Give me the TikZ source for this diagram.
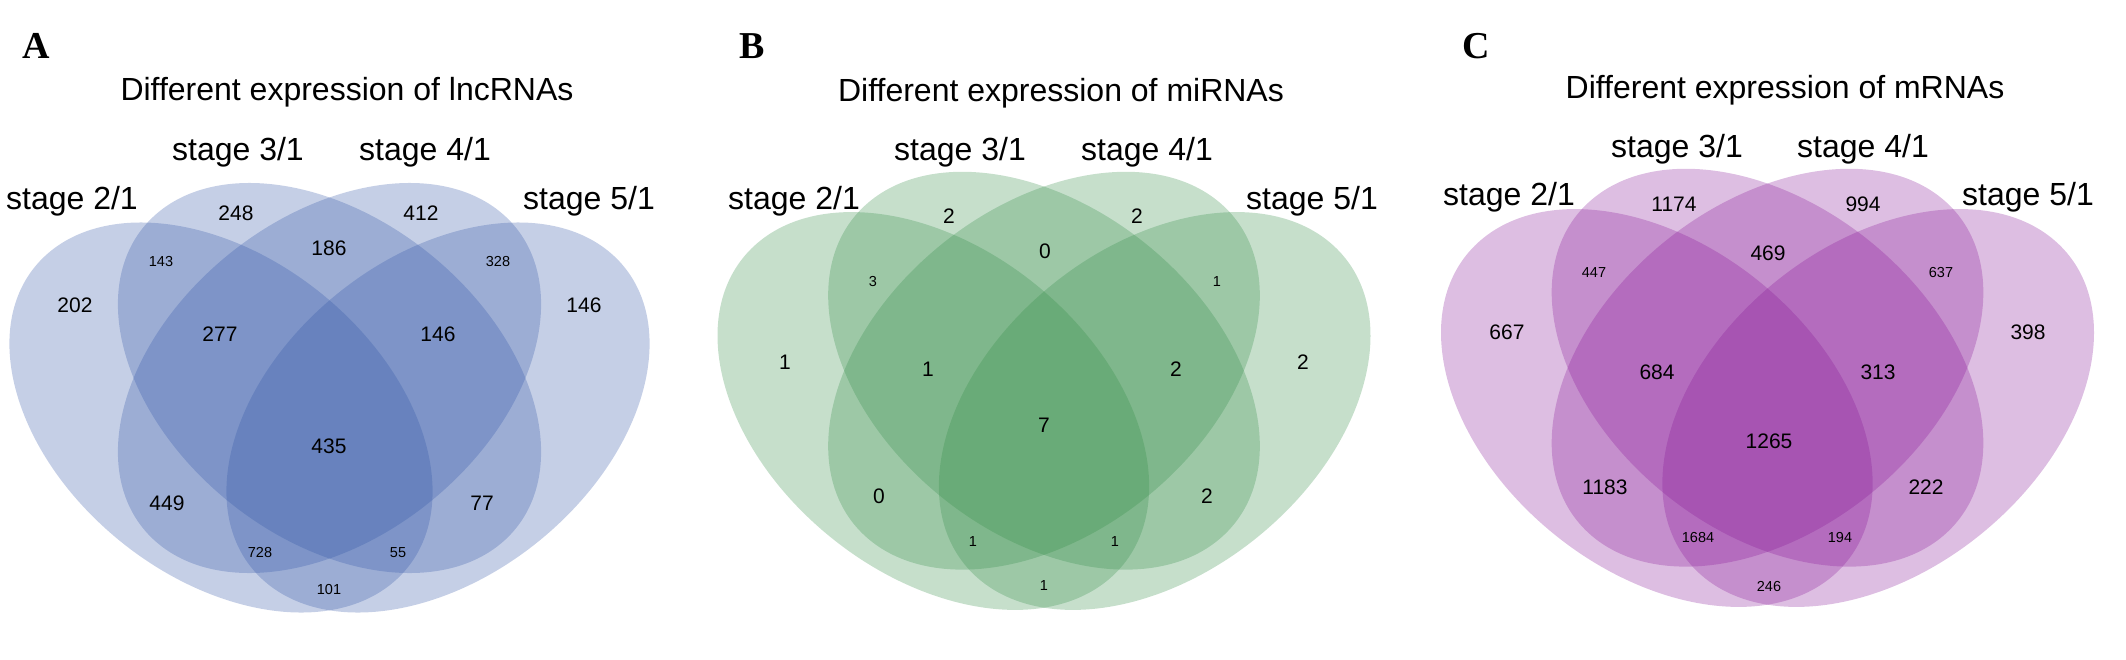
\documentclass[tikz,border=0pt]{standalone}
\usepackage{fontspec}
\setmainfont{Liberation Sans}
\newfontfamily\panelfont{Liberation Serif}
\definecolor{setA}{RGB}{48,84,166}
\definecolor{setB}{RGB}{50,140,70}
\definecolor{setC}{RGB}{134,20,150}
% #1 colour; scope already shifted to the common centre of sets 2 and 3
\newcommand{\vennfour}[1]{%
  \fill[#1,fill opacity=0.28,rotate around={-45:(-100,-39.5)}] (-100,-39.5) ellipse [x radius=228.9,y radius=153.8];
  \fill[#1,fill opacity=0.28,rotate around={-45:(0,0)}] (0,0) ellipse [x radius=228.9,y radius=153.8];
  \fill[#1,fill opacity=0.28,rotate around={45:(0,0)}] (0,0) ellipse [x radius=228.9,y radius=153.8];
  \fill[#1,fill opacity=0.28,rotate around={45:(100,-39.5)}] (100,-39.5) ellipse [x radius=228.9,y radius=153.8];
}
\begin{document}
\begin{tikzpicture}[x=1pt,y=1pt,
  ttl/.style={font=\fontsize{32}{38}\selectfont, anchor=base, inner sep=0pt},
  stg/.style={font=\fontsize{32}{38}\selectfont, anchor=base, inner sep=0pt},
  big/.style={font=\fontsize{21}{25}\selectfont, inner sep=0pt},
  sml/.style={font=\fontsize{14.5}{17}\selectfont, inner sep=0pt},
  plet/.style={font=\panelfont\bfseries\fontsize{38}{44}\selectfont, anchor=base, inner sep=0pt}]
\path[use as bounding box] (0,0) rectangle (2126,-659);
% ---------- ellipses
\begin{scope}[shift={(329.5,-378)},xscale=1.085]
  \vennfour{setA}
\end{scope}
\begin{scope}[shift={(1044,-370.7)},scale=1.02,xscale=1.085]
  \vennfour{setB}
\end{scope}
\begin{scope}[shift={(1767.5,-367.7)},scale=1.02,xscale=1.085]
  \vennfour{setC}
\end{scope}
% ---------- panel A
\node[plet] (pA) at (36,-58) {A};
\node[ttl] (tA) at (347,-100) {Different expression of lncRNAs};
\node[stg] (sA2) at (72,-209) {stage 2/1};
\node[stg] (sA3) at (238,-160) {stage 3/1};
\node[stg] (sA4) at (425,-160) {stage 4/1};
\node[stg] (sA5) at (589,-209) {stage 5/1};
\node[big] (nA1) at (236,-213) {248};
\node[big] (nA2) at (421,-213) {412};
\node[big] (nA3) at (329,-248) {186};
\node[sml] (nA4) at (161,-262) {143};
\node[sml] (nA5) at (498,-262) {328};
\node[big] (nA6) at (75,-305) {202};
\node[big] (nA7) at (584,-305) {146};
\node[big] (nA8) at (220,-334) {277};
\node[big] (nA9) at (438,-334) {146};
\node[big] (nA10) at (329,-446) {435};
\node[big] (nA11) at (167,-503) {449};
\node[big] (nA12) at (482,-503) {77};
\node[sml] (nA13) at (260,-553) {728};
\node[sml] (nA14) at (398,-553) {55};
\node[sml] (nA15) at (329,-589) {101};
% ---------- panel B
\node[plet] (pB) at (752,-58) {B};
\node[ttl] (tB) at (1061,-101) {Different expression of miRNAs};
\node[stg] (sB2) at (794,-209) {stage 2/1};
\node[stg] (sB3) at (960,-160) {stage 3/1};
\node[stg] (sB4) at (1147,-160) {stage 4/1};
\node[stg] (sB5) at (1312,-209) {stage 5/1};
\node[big] (nB1) at (949,-216) {2};
\node[big] (nB2) at (1137,-216) {2};
\node[big] (nB3) at (1045,-251) {0};
\node[sml] (nB4) at (873,-282) {3};
\node[sml] (nB5) at (1217,-282) {1};
\node[big] (nB6) at (785,-362) {1};
\node[big] (nB7) at (1303,-362) {2};
\node[big] (nB8) at (928,-369) {1};
\node[big] (nB9) at (1176,-369) {2};
\node[big] (nB10) at (1044,-425) {7};
\node[big] (nB11) at (879,-496) {0};
\node[big] (nB12) at (1207,-496) {2};
\node[sml] (nB13) at (973,-542) {1};
\node[sml] (nB14) at (1115,-542) {1};
\node[sml] (nB15) at (1044,-586) {1};
% ---------- panel C
\node[plet] (pC) at (1476,-58) {C};
\node[ttl] (tC) at (1785,-98) {Different expression of mRNAs};
\node[stg] (sC2) at (1509,-205) {stage 2/1};
\node[stg] (sC3) at (1677,-157) {stage 3/1};
\node[stg] (sC4) at (1863,-157) {stage 4/1};
\node[stg] (sC5) at (2028,-205) {stage 5/1};
\node[big] (nC1) at (1674,-204) {1174};
\node[big] (nC2) at (1863,-204) {994};
\node[big] (nC3) at (1768,-253) {469};
\node[sml] (nC4) at (1594,-273) {447};
\node[sml] (nC5) at (1941,-273) {637};
\node[big] (nC6) at (1507,-332) {667};
\node[big] (nC7) at (2028,-332) {398};
\node[big] (nC8) at (1657,-372) {684};
\node[big] (nC9) at (1878,-372) {313};
\node[big] (nC10) at (1769,-441) {1265};
\node[big] (nC11) at (1605,-487) {1183};
\node[big] (nC12) at (1926,-487) {222};
\node[sml] (nC13) at (1698,-538) {1684};
\node[sml] (nC14) at (1840,-538) {194};
\node[sml] (nC15) at (1769,-587) {246};
\end{tikzpicture}
\end{document}
